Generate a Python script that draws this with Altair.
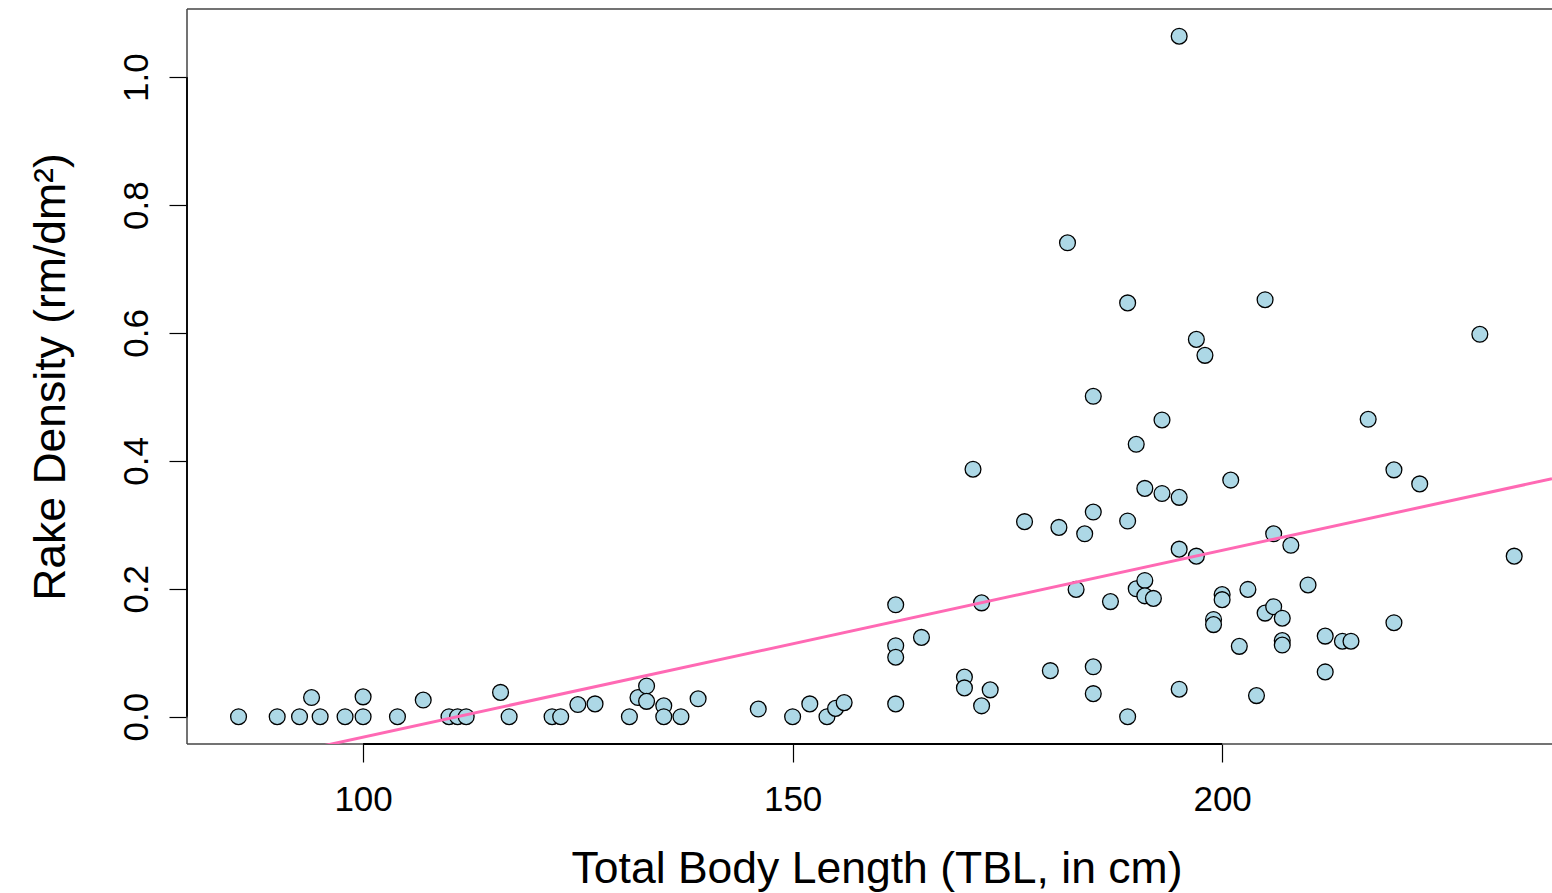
import altair as alt
import pandas as pd

# ---- data ----
tbl = [85.5, 90.0, 92.6, 94.0, 95.0, 97.9, 100.0, 100.0, 104.0, 107.0,
       110.0, 111.0, 112.0, 116.0, 117.0, 122.0, 123.0, 125.0, 127.0, 131.0,
       132.0, 133.0, 133.0, 135.0, 135.0, 137.0, 139.0, 146.0, 150.0, 152.0,
       154.0, 155.0, 156.0, 162.0, 162.0, 162.0, 162.0, 165.0, 170.0, 170.0,
       171.0, 172.0, 172.0, 173.0, 177.0, 180.0, 181.0, 182.0, 183.0, 184.0,
       185.0, 185.0, 185.0, 185.0, 187.0, 189.0, 189.0, 189.0, 190.0, 190.0,
       191.0, 191.0, 191.0, 192.0, 193.0, 193.0, 195.0, 195.0, 195.0, 195.0,
       197.0, 197.0, 198.0, 199.0, 199.0, 200.0, 200.0, 201.0, 202.0, 203.0,
       204.0, 205.0, 205.0, 206.0, 206.0, 207.0, 207.0, 207.0, 208.0, 210.0,
       212.0, 212.0, 214.0, 215.0, 217.0, 220.0, 220.0, 223.0, 230.0, 234.0]

rake = [0.0, 0.0, 0.0, 0.030, 0.0, 0.0, 0.0, 0.031, 0.0, 0.026,
        0.0, 0.0, 0.0, 0.038, 0.0, 0.0, 0.0, 0.019, 0.020, 0.0,
        0.030, 0.048, 0.024, 0.017, 0.0, 0.0, 0.028, 0.012, 0.0, 0.020,
        0.0, 0.013, 0.022, 0.175, 0.111, 0.093, 0.020, 0.124, 0.062, 0.045,
        0.387, 0.178, 0.017, 0.042, 0.305, 0.072, 0.296, 0.741, 0.199, 0.286,
        0.501, 0.320, 0.078, 0.036, 0.180, 0.647, 0.306, 0.0, 0.426, 0.200,
        0.357, 0.213, 0.189, 0.185, 0.464, 0.349, 1.064, 0.343, 0.262, 0.043,
        0.590, 0.251, 0.565, 0.152, 0.144, 0.191, 0.183, 0.370, 0.110, 0.199,
        0.033, 0.652, 0.162, 0.286, 0.172, 0.154, 0.119, 0.112, 0.268, 0.206,
        0.126, 0.070, 0.118, 0.118, 0.465, 0.386, 0.147, 0.364, 0.598, 0.251]

fit_intercept = -0.324
fit_slope = 0.00292

x_ticks = [100, 150, 200]
y_ticks = [0.0, 0.2, 0.4, 0.6, 0.8, 1.0]
x_axis_span = [100, 200]
y_axis_span = [0.0, 1.0]
x_domain = [79.5, 238.4]
y_domain = [-0.0427, 1.1066]

# ---- layout ----
W, H = 1365, 735
FONT = "Liberation Sans"

pts = pd.DataFrame({"tbl": tbl, "rake": rake})
fit = pd.DataFrame({"tbl": x_domain})
fit["rake"] = fit_intercept + fit_slope * fit["tbl"]
xspan = pd.DataFrame({"a": [x_axis_span[0]], "b": [x_axis_span[1]]})
yspan = pd.DataFrame({"a": [y_axis_span[0]], "b": [y_axis_span[1]]})

xs = alt.Scale(domain=x_domain, nice=False, zero=False)
ys = alt.Scale(domain=y_domain, nice=False, zero=False)

x_axis = alt.Axis(
    values=x_ticks, title="Total Body Length (TBL, in cm)", domain=False, grid=False,
    tickSize=18, tickColor="black", tickWidth=1.2,
    labelFont=FONT, labelFontSize=35, labelColor="black", labelBaseline="alphabetic",
    labelPadding=48, labelFlush=False, labelOverlap=False,
    titleFont=FONT, titleFontSize=44.5, titleFontWeight="normal", titleColor="black",
    titleBaseline="alphabetic", titleAlign="center", titleX=689.5, titleY=138,
)
y_axis = alt.Axis(
    values=y_ticks, format=".1f", title="Rake Density (rm/dm²)", domain=False, grid=False,
    tickSize=18, tickColor="black", tickWidth=1.2,
    labelFont=FONT, labelFontSize=35, labelColor="black", labelAngle=270,
    labelAlign="center", labelBaseline="alphabetic", labelPadding=22,
    labelFlush=False, labelOverlap=False,
    titleFont=FONT, titleFontSize=44.5, titleFontWeight="normal", titleColor="black",
    titleAngle=270, titleBaseline="alphabetic", titleAlign="center",
    titleX=-123, titleY=H / 2,
)

points = alt.Chart(pts).mark_circle(
    size=250, fill="#ADD8E6", stroke="black", strokeWidth=1.3, opacity=1
).encode(
    x=alt.X("tbl:Q", scale=xs, axis=x_axis),
    y=alt.Y("rake:Q", scale=ys, axis=y_axis),
)

line = alt.Chart(fit).mark_line(color="#FF69B4", strokeWidth=3, clip=True).encode(
    x=alt.X("tbl:Q", scale=xs), y=alt.Y("rake:Q", scale=ys)
)

frame_col = "#444444"
frame_top = alt.Chart(xspan).mark_rule(color=frame_col, strokeWidth=1.5).encode(
    x=alt.value(0), x2=alt.value(W), y=alt.value(0))
frame_left = alt.Chart(xspan).mark_rule(color=frame_col, strokeWidth=1.5).encode(
    x=alt.value(0), y=alt.value(0), y2=alt.value(H))
frame_bottom = alt.Chart(xspan).mark_rule(color=frame_col, strokeWidth=1.5).encode(
    x=alt.value(0), x2=alt.value(W), y=alt.value(H))

x_axis_line = alt.Chart(xspan).mark_rule(color="black", strokeWidth=1.8).encode(
    x=alt.X("a:Q", scale=xs), x2="b:Q", y=alt.value(H))
y_axis_line = alt.Chart(yspan).mark_rule(color="black", strokeWidth=1.8).encode(
    y=alt.Y("a:Q", scale=ys), y2="b:Q", x=alt.value(0))

chart = alt.layer(
    frame_top, frame_left, frame_bottom, x_axis_line, y_axis_line, points, line
).properties(
    width=W, height=H,
    autosize=alt.AutoSizeParams(type="none"),
    padding={"left": 187, "top": 9, "right": 0, "bottom": 149},
    background="white",
).configure_view(stroke=None)

chart.save("out.html", embed_options={"renderer": "svg", "actions": False})
